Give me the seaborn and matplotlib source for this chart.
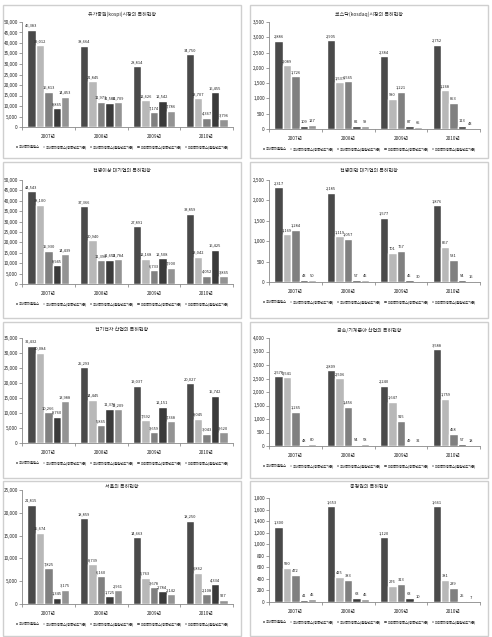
import matplotlib
matplotlib.use('Agg')
import matplotlib.pyplot as plt
from matplotlib.patches import Rectangle
import pandas as pd
import seaborn as sns

years = ['2007년', '2008년', '2009년', '2010년']
series = ['국내특허출원수', '국내특허등록수(등록년도기준)', '국내특허등록수(출원년도기준)',
          '미국특허등록수(등록년도기준)', '미국특허등록수(출원년도기준)']
colors = ['#4a4a4a', '#b8b8b8', '#808080', '#3a3a3a', '#939393']

titles = ['유가증권(kospi)시장의 특허현황', '코스닥(kosdaq)시장의 특허현황',
          '천명이상 대기업의 특허현황', '천명미만 대기업의 특허현황',
          '전기전자 산업의 특허현황', '금속/기계분야 산업의 특허현황',
          '서울의 특허현황', '충청권의 특허현황']

# values per year: [출원, 국내등록(등록), 국내등록(출원), 미국등록(등록), 미국등록(출원)]
kospi = [[46383, 39012, 16813, 8865, 14453],
         [38664, 21845, 11971, 11586, 11709],
         [28814, 12626, 7174, 12542, 7786],
         [34750, 13707, 4367, 16455, 3796]]
kosdaq = [[2886, 2089, 1726, 109, 127],
          [2905, 1537, 1565, 82, 99],
          [2384, 980, 1221, 87, 65],
          [2752, 1268, 853, 113, 43]]
large_over = [[44543, 38100, 15930, 8945, 14439],
              [37366, 20940, 11390, 11653, 11784],
              [27891, 12168, 6733, 12508, 7900],
              [33859, 13042, 4052, 16425, 3865]]
large_under = [[2317, 1169, 1284, 43, 50],
               [2185, 1119, 1057, 57, 45],
               [1577, 701, 767, 45, 30],
               [1876, 867, 531, 54, 16]]
elec = [[32432, 30084, 10266, 8760, 13988],
        [25293, 14445, 5865, 11376, 11209],
        [19037, 7592, 3659, 12151, 7368],
        [20027, 8045, 3043, 15742, 3620]]
metal = [[2578, 2541, 1265, 48, 80],
         [2809, 2506, 1456, 54, 58],
         [2240, 1647, 915, 49, 32],
         [3588, 1759, 458, 57, 18]]
seoul = [[21815, 15674, 7825, 1345, 3175],
         [18859, 8739, 6160, 1725, 2961],
         [14663, 5763, 3678, 2784, 2142],
         [18250, 6862, 2108, 4334, 927]]
chungcheong = [[1300, 590, 472, 41, 45],
               [1653, 425, 383, 63, 45],
               [1120, 276, 313, 63, 10],
               [1661, 381, 239, 25, 7]]

datasets = [kospi, kosdaq, large_over, large_under, elec, metal, seoul, chungcheong]
ymax = [50000, 3500, 50000, 2500, 35000, 4000, 25000, 1800]
ystep = [5000, 500, 5000, 500, 5000, 500, 5000, 200]

sns.set_theme(style='white')
plt.rcParams['font.family'] = ['Noto Sans CJK KR', 'DejaVu Sans']

W, H = 492, 637
fig = plt.figure(figsize=(W / 100, H / 100), dpi=100)

# panel boxes (pixels): x0, x1 per column, y0, y1 per row
col_x = [(3, 241), (250, 488)]
row_y = [(5, 158), (162, 318), (322, 478), (481, 636)]
# axes top, bottom (pixels)
ax_tb = [(22, 127), (22, 129), (180, 284), (180, 282),
         (338, 443), (338, 446), (490, 604), (498, 602)]
title_y = [14, 14, 170, 170, 330, 330, 487, 487]

for i, vals in enumerate(datasets):
    r, c = divmod(i, 2)
    px0, px1 = col_x[c]
    py0, py1 = row_y[r]
    fig.patches.append(Rectangle((px0 / W, 1 - py1 / H), (px1 - px0) / W, (py1 - py0) / H,
                                 transform=fig.transFigure, fill=False,
                                 edgecolor='#cfcfcf', linewidth=1.0))
    left = px0 + 19
    right = px1 - 8
    top, bottom = ax_tb[i]
    ax = fig.add_axes([left / W, 1 - bottom / H, (right - left) / W, (bottom - top) / H])

    rows = []
    for y, yv in zip(years, vals):
        for s, v in zip(series, yv):
            rows.append({'year': y, 'series': s, 'value': v})
    df = pd.DataFrame(rows)
    sns.barplot(data=df, x='year', y='value', hue='series', hue_order=series,
                palette=colors, width=0.8, saturation=1, ax=ax, legend=True)

    for k, cont in enumerate(ax.containers):
        labels = [f'{vals[j][k]:,}' for j in range(len(years))]
        ax.bar_label(cont, labels=labels, fontsize=2.9, padding=1.5, color='#222222')

    ax.set_ylim(0, ymax[i])
    ticks = list(range(0, ymax[i] + 1, ystep[i]))
    ax.set_yticks(ticks)
    ax.set_yticklabels([f'{t:,}' for t in ticks])
    ax.set_xlim(-0.5, 3.5)
    ax.set_xlabel('')
    ax.set_ylabel('')
    ax.tick_params(axis='y', labelsize=3.4, length=2, width=0.5, pad=1, left=True, color='#777777')
    ax.tick_params(axis='x', labelsize=3.4, length=0, pad=5)
    ax.set_xticks([-0.5, 0.5, 1.5, 2.5, 3.5], minor=True)
    ax.tick_params(axis='x', which='minor', length=2, width=0.5, bottom=True, color='#777777')
    for side in ['top', 'right']:
        ax.spines[side].set_visible(False)
    for side in ['left', 'bottom']:
        ax.spines[side].set_color('#888888')
        ax.spines[side].set_linewidth(0.6)

    cx = (px0 + px1) / 2
    fig.text(cx / W, 1 - title_y[i] / H, titles[i], ha='center', va='center', fontsize=3.6)

    ax.legend(loc='center', bbox_to_anchor=(cx / W, 1 - (bottom + 20) / H),
              bbox_transform=fig.transFigure, ncol=5, frameon=False, fontsize=2.4,
              handlelength=1.0, handleheight=1.0, handletextpad=0.3,
              columnspacing=0.5, borderpad=0)

fig.savefig('out.png', dpi=100)
